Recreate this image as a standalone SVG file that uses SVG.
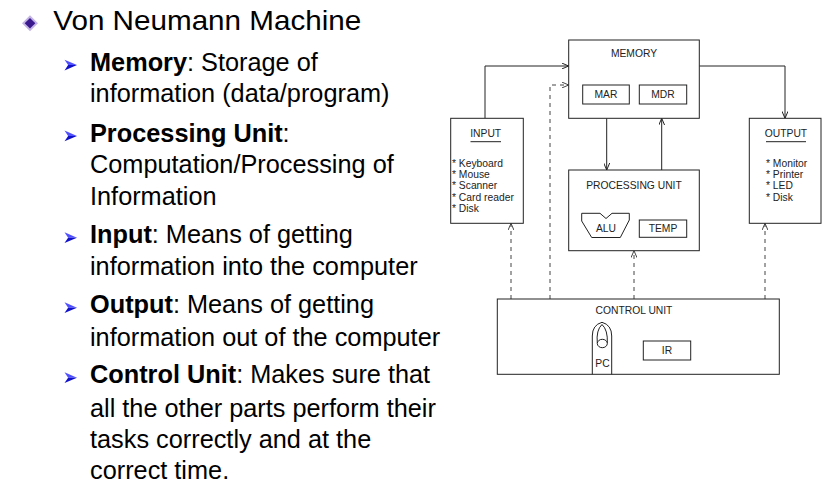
<svg xmlns="http://www.w3.org/2000/svg" width="838" height="488" viewBox="0 0 838 488">
<defs>
<style>
.t{font-family:"Liberation Sans",Arial,sans-serif;fill:#000}
.b{font-size:25.3px}
.bd{font-weight:bold}
.d{font-family:"Liberation Sans",Arial,sans-serif;font-size:10.3px;fill:#222}
.m{text-anchor:middle}
.bx{fill:#fff;stroke:#222;stroke-width:1}
.ln{fill:none;stroke:#222;stroke-width:1}
.ds{fill:none;stroke:#444;stroke-width:1;stroke-dasharray:4 4}
.ah1{fill:#5050ff}
.ah2{fill:#1010c8}
</style>
<marker id="arr" viewBox="0 0 7 6" refX="7" refY="3" markerWidth="7" markerHeight="6" markerUnits="userSpaceOnUse" orient="auto">
<path d="M0,0 L7,3 L0,6" fill="none" stroke="#222" stroke-width="1"/>
</marker>
<marker id="arrd" viewBox="0 0 7 6" refX="7" refY="3" markerWidth="7" markerHeight="6" markerUnits="userSpaceOnUse" orient="auto">
<path d="M0,0 L7,3 L0,6" fill="none" stroke="#444" stroke-width="1"/>
</marker>
<g id="bullet">
<polygon class="ah1" points="0,-11 12.5,-5.6 3.6,-5.6"/>
<polygon class="ah2" points="3.6,-5.6 12.5,-5.6 0,-0.3"/>
</g>
</defs>
<rect width="838" height="488" fill="#fff"/>

<g id="title">
<polygon points="30,15.3 38,23.3 30,31.3 22,23.3" fill="#c4b4e6"/>
<polygon points="30,18 35.3,23.3 30,28.6 24.7,23.3" fill="#3a1a8e"/>
<text class="t" x="53.3" y="30" font-size="27.5" textLength="308" lengthAdjust="spacingAndGlyphs">Von Neumann Machine</text>
</g>

<g id="bullets">
<use href="#bullet" x="64.5" y="70.7"/>
<use href="#bullet" x="64.5" y="141.5"/>
<use href="#bullet" x="64.5" y="243.3"/>
<use href="#bullet" x="64.5" y="313.3"/>
<use href="#bullet" x="64.5" y="383.3"/>
<text class="t b" x="90" y="70.7"><tspan class="bd">Memory</tspan>: Storage of</text>
<text class="t b" x="90" y="101.7">information (data/program)</text>
<text class="t b" x="90" y="141.5"><tspan class="bd">Processing Unit</tspan>:</text>
<text class="t b" x="90" y="173.3">Computation/Processing of</text>
<text class="t b" x="90" y="205">Information</text>
<text class="t b" x="90" y="243.3"><tspan class="bd">Input</tspan>: Means of getting</text>
<text class="t b" x="90" y="275">information into the computer</text>
<text class="t b" x="90" y="313.3"><tspan class="bd">Output</tspan>: Means of getting</text>
<text class="t b" x="90" y="346">information out of the computer</text>
<text class="t b" x="90" y="383.3"><tspan class="bd">Control Unit</tspan>: Makes sure that</text>
<text class="t b" x="90" y="416.7">all the other parts perform their</text>
<text class="t b" x="90" y="448.3">tasks correctly and at the</text>
<text class="t b" x="90" y="479.3">correct time.</text>
</g>

<g id="connectors">
<polyline class="ln" points="485,118.3 485,66 568.7,66" marker-end="url(#arr)"/>
<polyline class="ln" points="699.3,66 785,66 785,118.3" marker-end="url(#arr)"/>
<line class="ln" x1="606.7" y1="118.3" x2="606.7" y2="170" marker-end="url(#arr)"/>
<line class="ln" x1="661.7" y1="170" x2="661.7" y2="118.3" marker-end="url(#arr)"/>
<line class="ds" x1="511" y1="299" x2="511" y2="223.3" marker-end="url(#arrd)"/>
<polyline class="ds" points="550,299 550,85 568.7,85" marker-end="url(#arrd)"/>
<line class="ds" x1="634" y1="299" x2="634" y2="250.7" marker-end="url(#arrd)"/>
<line class="ds" x1="765" y1="299" x2="765" y2="223.3" marker-end="url(#arrd)"/>
</g>

<g id="memory">
<rect class="bx" x="568.7" y="40" width="130.6" height="78.3"/>
<text class="d m" x="634" y="56.7">MEMORY</text>
<rect class="bx" x="582.7" y="85" width="46.6" height="19"/>
<text class="d m" x="606" y="97.5">MAR</text>
<rect class="bx" x="639.3" y="85" width="47.4" height="19"/>
<text class="d m" x="663" y="97.5">MDR</text>
</g>

<g id="input">
<rect class="bx" x="450.7" y="118.3" width="72.6" height="105"/>
<text class="d m" x="485.7" y="136.7">INPUT</text>
<line class="ln" x1="470.5" y1="141.7" x2="501" y2="141.7"/>
<text class="d" x="452" y="166.5">* Keyboard</text>
<text class="d" x="452" y="177.9">* Mouse</text>
<text class="d" x="452" y="189.3">* Scanner</text>
<text class="d" x="452" y="200.7">* Card reader</text>
<text class="d" x="452" y="212.1">* Disk</text>
</g>

<g id="output">
<rect class="bx" x="749.3" y="118.3" width="71.7" height="105"/>
<text class="d m" x="786" y="136.7">OUTPUT</text>
<line class="ln" x1="766" y1="141.7" x2="806" y2="141.7"/>
<text class="d" x="766" y="166.5">* Monitor</text>
<text class="d" x="766" y="177.9">* Printer</text>
<text class="d" x="766" y="189.3">* LED</text>
<text class="d" x="766" y="200.7">* Disk</text>
</g>

<g id="processing">
<rect class="bx" x="568.7" y="170" width="130.6" height="80.7"/>
<text class="d m" x="634" y="189">PROCESSING UNIT</text>
<path class="bx" d="M581.7,213.3 L600,213.3 L606,218.5 L612,213.3 L629.3,213.3 L629.3,220 L620.3,237.5 L591.7,237.5 L581.7,221 Z"/>
<text class="d m" x="606" y="231.5">ALU</text>
<rect class="bx" x="639.3" y="220" width="47.4" height="17.3"/>
<text class="d m" x="663" y="231.5">TEMP</text>
</g>

<g id="control">
<rect class="bx" x="497.3" y="299" width="282" height="75.3"/>
<text class="d m" x="634" y="313.5">CONTROL UNIT</text>
<path class="ln" d="M592.3,374.3 L592.3,336 Q592.3,325 602,322.3 Q611.7,325 611.7,336 L611.7,374.3"/>
<path class="ln" d="M597.3,343.3 Q596,330 602,324.5 M607.3,343.3 Q608,330 602,324.5"/>
<ellipse class="bx" cx="602.3" cy="343.5" rx="5" ry="4.2"/>
<text class="d m" x="602.5" y="366.5">PC</text>
<rect class="bx" x="643.3" y="341" width="47.4" height="19"/>
<text class="d m" x="667" y="354">IR</text>
</g>
</svg>
